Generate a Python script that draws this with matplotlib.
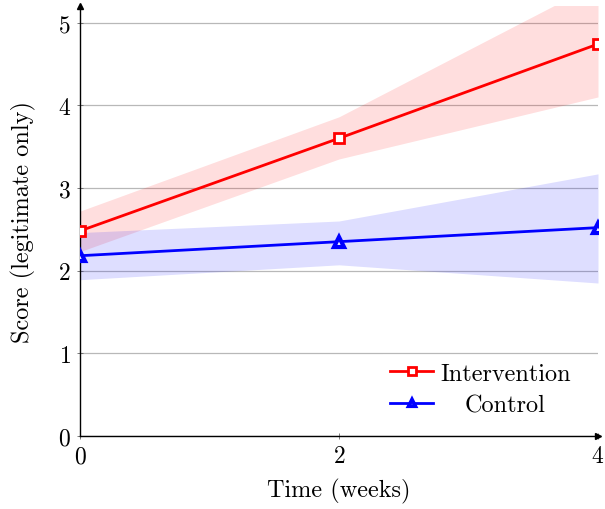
import matplotlib
matplotlib.use('Agg')
from matplotlib import pyplot as plt

plt.rcParams['font.family'] = ['cmr10', 'DejaVu Serif']
plt.rcParams['mathtext.fontset'] = 'cm'
plt.rcParams['axes.formatter.use_mathtext'] = True

weeks = [0, 2, 4]
intervention = [2.48, 3.60, 4.74]
intervention_lo = [2.23, 3.35, 4.10]
intervention_hi = [2.72, 3.86, 5.48]
control = [2.18, 2.35, 2.52]
control_lo = [1.89, 2.07, 1.85]
control_hi = [2.46, 2.60, 3.17]
y_ticks = [0, 1, 2, 3, 4, 5]
x_ticks = [0, 2, 4]

fig = plt.figure(figsize=(6.05, 5.1), dpi=100)
ax = fig.add_axes([80 / 605, 73 / 510, 518 / 605, 430 / 510])

ax.fill_between(weeks, intervention_lo, intervention_hi, color='red', alpha=0.13, lw=0)
ax.fill_between(weeks, control_lo, control_hi, color='blue', alpha=0.13, lw=0)
ax.plot(weeks, intervention, color='red', lw=2, marker='s', markersize=7,
        mfc='white', mec='red', mew=2, label='Intervention', zorder=3)
ax.plot(weeks, control, color='blue', lw=2, marker='^', markersize=6.5,
        mfc='white', mec='blue', mew=3, label='Control', zorder=3)

ax.set_xlim(0, 4)
ax.set_ylim(0, 5.2)
ax.set_xticks(x_ticks)
ax.set_yticks(y_ticks)
ax.yaxis.grid(True, color='#b8b8b8', lw=0.9)
ax.set_axisbelow(True)
ax.tick_params(direction='inout', length=5, width=0.6, color='#666666',
               labelsize=17, pad=4)
for s in ['top', 'right']:
    ax.spines[s].set_visible(False)
for s in ['left', 'bottom']:
    ax.spines[s].set_linewidth(1.0)
# arrow heads on the axes
ax.plot(1, 0, marker='>', color='black', markersize=5, transform=ax.transAxes, clip_on=False)
ax.plot(0, 1, marker='^', color='black', markersize=5, transform=ax.transAxes, clip_on=False)

ax.set_xlabel('Time (weeks)', fontsize=17.5, labelpad=8)
ax.set_ylabel('Score (legitimate only)', fontsize=17.5, labelpad=16)

leg = ax.legend(loc='lower right', bbox_to_anchor=(0.985, 0.0), frameon=True,
                fontsize=17.5, handlelength=1.75, handletextpad=0.3, labelspacing=0.4,
                borderpad=0.3, markerscale=0.75, fancybox=False)
leg.get_frame().set_edgecolor('white')
leg.get_frame().set_facecolor('white')
leg.get_frame().set_alpha(1)

# centre the legend texts like pgfplots does
fig.canvas.draw()
texts = leg.get_texts()
widths = [t.get_window_extent().width for t in texts]
for t, w in zip(texts, widths):
    t.set_x((max(widths) - w) / 2)

plt.savefig('out.png', dpi=100)
plt.close()
